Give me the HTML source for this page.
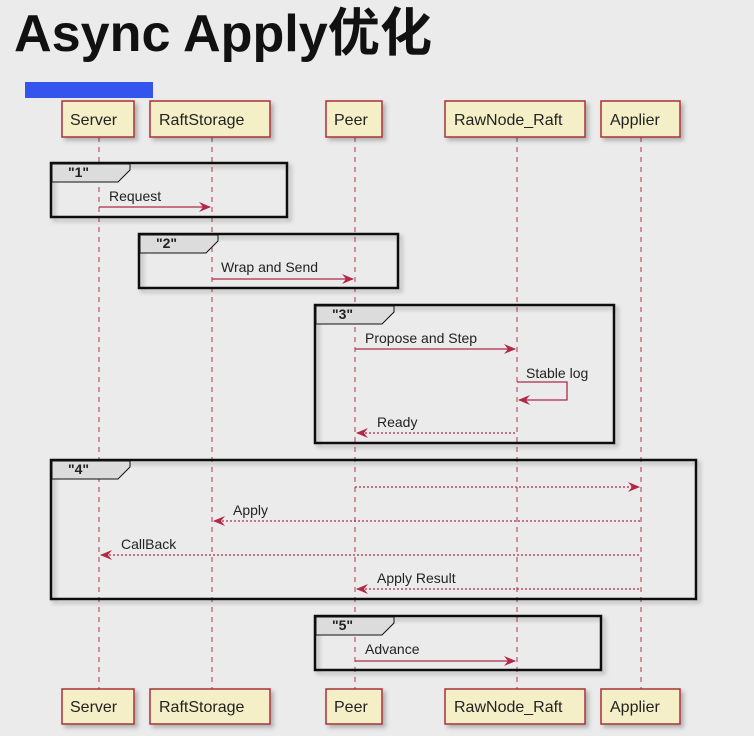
<!DOCTYPE html>
<html><head><meta charset="utf-8"><style>
html,body{margin:0;padding:0;background:#ebebeb;width:754px;height:736px;overflow:hidden}
svg{display:block}
text{font-family:"Liberation Sans","Noto Sans CJK SC",sans-serif}
</style></head><body>
<svg width="754" height="736" viewBox="0 0 754 736" xmlns="http://www.w3.org/2000/svg">
<defs>
<filter id="sh" x="-10%" y="-10%" width="130%" height="140%"><feDropShadow dx="3" dy="3" stdDeviation="2" flood-color="#000" flood-opacity="0.25"/></filter>
</defs>
<rect width="754" height="736" fill="#ebebeb"/>
<text x="14" y="51" font-size="52" font-weight="bold" fill="#111" textLength="418" lengthAdjust="spacingAndGlyphs">Async Apply优化</text>
<rect x="25" y="82" width="128" height="16" fill="#3355ee"/>

<g stroke="#b03a48" stroke-width="1" stroke-dasharray="5,5" fill="none">
<line x1="99" y1="137" x2="99" y2="689"/>
<line x1="212" y1="137" x2="212" y2="689"/>
<line x1="355" y1="137" x2="355" y2="689"/>
<line x1="517" y1="137" x2="517" y2="689"/>
<line x1="641" y1="137" x2="641" y2="689"/>
</g>

<g fill="#f4efc6" stroke="#a8303a" stroke-width="1.5" filter="url(#sh)">
<rect x="62" y="101" width="72" height="36"/>
<rect x="150" y="101" width="120" height="36"/>
<rect x="326" y="101" width="56" height="36"/>
<rect x="445" y="101" width="140" height="36"/>
<rect x="601" y="101" width="79" height="36"/>
<rect x="62" y="689" width="72" height="35"/>
<rect x="150" y="689" width="120" height="35"/>
<rect x="326" y="689" width="56" height="35"/>
<rect x="445" y="689" width="140" height="35"/>
<rect x="601" y="689" width="79" height="35"/>
</g>
<g font-size="16" fill="#222">
<text x="70" y="125">Server</text><text x="159" y="125">RaftStorage</text><text x="334" y="125">Peer</text><text x="454" y="125">RawNode_Raft</text><text x="610" y="125">Applier</text>
<text x="70" y="712">Server</text><text x="159" y="712">RaftStorage</text><text x="334" y="712">Peer</text><text x="454" y="712">RawNode_Raft</text><text x="610" y="712">Applier</text>
</g>

<g fill="none" stroke="#111" stroke-width="2.5" filter="url(#sh)">
<rect x="51" y="163" width="236" height="54"/>
<rect x="139" y="234" width="259" height="54"/>
<rect x="315" y="305" width="299" height="138"/>
<rect x="51" y="460" width="645" height="139"/>
<rect x="315" y="616" width="286" height="54"/>
</g>
<g fill="#dcdcdc" stroke="#111" stroke-width="1">
<path d="M52,164 H130 V170 L118,182 H52 Z"/>
<path d="M140,235 H218 V241 L206,253 H140 Z"/>
<path d="M316,306 H394 V312 L382,324 H316 Z"/>
<path d="M52,461 H130 V467 L118,479 H52 Z"/>
<path d="M316,617 H394 V623 L382,635 H316 Z"/>
</g>
<g font-size="14" font-weight="bold" fill="#222">
<text x="68" y="177">"1"</text><text x="156" y="248">"2"</text><text x="332" y="319">"3"</text><text x="68" y="474">"4"</text><text x="332" y="630">"5"</text>
</g>

<g stroke="#b02a48" stroke-width="1.3" fill="none">
<line x1="99" y1="207" x2="210" y2="207"/>
<line x1="212" y1="279" x2="353" y2="279"/>
<line x1="355" y1="349" x2="515" y2="349"/>
<path d="M517,382 H567 V400 H519"/>
<line x1="357" y1="433" x2="517" y2="433" stroke-dasharray="2,2"/>
<line x1="355" y1="487" x2="639" y2="487" stroke-dasharray="2,2"/>
<line x1="214" y1="521" x2="641" y2="521" stroke-dasharray="2,2"/>
<line x1="101" y1="555" x2="641" y2="555" stroke-dasharray="2,2"/>
<line x1="357" y1="589" x2="641" y2="589" stroke-dasharray="2,2"/>
<line x1="355" y1="661" x2="515" y2="661"/>
</g>
<g fill="#b02a48">
<path d="M211,207 L199,202 L203,207 L199,212 Z"/>
<path d="M354,279 L342,274 L346,279 L342,284 Z"/>
<path d="M516,349 L504,344 L508,349 L504,354 Z"/>
<path d="M518,400 L530,395 L526,400 L530,405 Z"/>
<path d="M356,433 L368,428 L364,433 L368,438 Z"/>
<path d="M640,487 L628,482 L632,487 L628,492 Z"/>
<path d="M213,521 L225,516 L221,521 L225,526 Z"/>
<path d="M100,555 L112,550 L108,555 L112,560 Z"/>
<path d="M356,589 L368,584 L364,589 L368,594 Z"/>
<path d="M516,661 L504,656 L508,661 L504,666 Z"/>
</g>
<g font-size="14" fill="#222">
<text x="109" y="201">Request</text>
<text x="221" y="272">Wrap and Send</text>
<text x="365" y="343">Propose and Step</text>
<text x="526" y="378">Stable log</text>
<text x="377" y="427">Ready</text>
<text x="233" y="515">Apply</text>
<text x="121" y="549">CallBack</text>
<text x="377" y="583">Apply Result</text>
<text x="365" y="654">Advance</text>
</g>
</svg>
</body></html>
